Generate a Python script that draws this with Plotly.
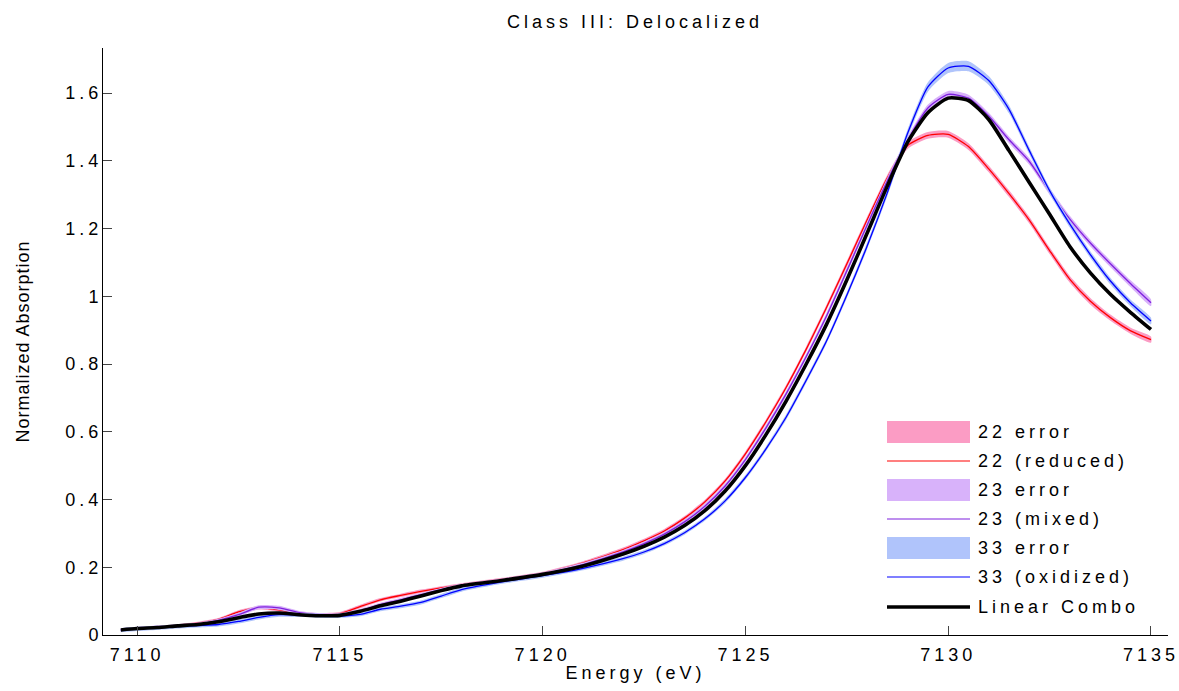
import plotly.graph_objects as go

# Energy grid (eV)
energy = [7109.6, 7110.0, 7110.5, 7111.0, 7111.5, 7112.0, 7112.5, 7113.0, 7113.5, 7114.0,
          7114.5, 7115.0, 7115.5, 7116.0, 7116.5, 7117.0, 7117.5, 7118.0, 7119.0, 7120.0,
          7121.0, 7122.0, 7122.5, 7123.0, 7123.5, 7124.0, 7124.5, 7125.0, 7125.5, 7126.0,
          7126.5, 7127.0, 7127.5, 7128.0, 7128.5, 7129.0, 7129.5, 7130.0, 7130.5, 7131.0,
          7131.5, 7132.0, 7132.5, 7133.0, 7133.5, 7134.0, 7134.5, 7135.0]

# 22 (reduced)
reduced = [0.015, 0.019, 0.023, 0.028, 0.035, 0.046, 0.068, 0.080, 0.074, 0.062,
           0.060, 0.063, 0.084, 0.104, 0.117, 0.129, 0.139, 0.148, 0.164, 0.182,
           0.213, 0.253, 0.278, 0.307, 0.345, 0.393, 0.455, 0.535, 0.628, 0.730,
           0.844, 0.967, 1.095, 1.225, 1.350, 1.445, 1.475, 1.478, 1.442, 1.376,
           1.303, 1.225, 1.135, 1.050, 0.986, 0.937, 0.898, 0.872]
reduced_err = [0.004, 0.004, 0.004, 0.004, 0.004, 0.004, 0.005, 0.005, 0.005, 0.005,
               0.005, 0.005, 0.005, 0.005, 0.005, 0.005, 0.005, 0.005, 0.005, 0.005,
               0.005, 0.006, 0.006, 0.006, 0.006, 0.006, 0.006, 0.007, 0.007, 0.007,
               0.008, 0.008, 0.009, 0.009, 0.009, 0.010, 0.010, 0.010, 0.010, 0.010,
               0.010, 0.010, 0.010, 0.010, 0.010, 0.009, 0.009, 0.009]

# 23 (mixed)
mixed = [0.015, 0.019, 0.023, 0.027, 0.032, 0.043, 0.060, 0.082, 0.080, 0.066,
         0.060, 0.060, 0.072, 0.090, 0.104, 0.119, 0.134, 0.146, 0.162, 0.180,
         0.208, 0.246, 0.270, 0.298, 0.334, 0.380, 0.440, 0.518, 0.610, 0.711,
         0.822, 0.942, 1.075, 1.210, 1.341, 1.461, 1.556, 1.596, 1.585, 1.532,
         1.462, 1.398, 1.310, 1.228, 1.158, 1.096, 1.037, 0.981]
mixed_err = [0.005, 0.005, 0.005, 0.005, 0.005, 0.005, 0.006, 0.006, 0.006, 0.005,
             0.005, 0.005, 0.005, 0.005, 0.005, 0.005, 0.005, 0.005, 0.005, 0.005,
             0.006, 0.006, 0.006, 0.006, 0.007, 0.007, 0.007, 0.007, 0.008, 0.008,
             0.008, 0.009, 0.009, 0.009, 0.010, 0.010, 0.010, 0.010, 0.010, 0.010,
             0.010, 0.010, 0.010, 0.010, 0.010, 0.010, 0.010, 0.010]

# 33 (oxidized)
oxidized = [0.014, 0.018, 0.021, 0.025, 0.028, 0.031, 0.040, 0.052, 0.060, 0.059,
            0.057, 0.056, 0.061, 0.076, 0.085, 0.096, 0.115, 0.134, 0.157, 0.175,
            0.197, 0.226, 0.245, 0.270, 0.302, 0.343, 0.396, 0.465, 0.548, 0.642,
            0.752, 0.868, 1.003, 1.148, 1.306, 1.481, 1.618, 1.674, 1.679, 1.637,
            1.552, 1.430, 1.312, 1.213, 1.124, 1.045, 0.980, 0.927]
oxidized_err = [0.006, 0.006, 0.006, 0.006, 0.006, 0.006, 0.006, 0.006, 0.006, 0.006,
                0.006, 0.006, 0.006, 0.006, 0.006, 0.006, 0.006, 0.006, 0.006, 0.006,
                0.006, 0.006, 0.006, 0.006, 0.006, 0.006, 0.007, 0.007, 0.007, 0.008,
                0.008, 0.008, 0.009, 0.010, 0.011, 0.012, 0.014, 0.015, 0.015, 0.013,
                0.012, 0.011, 0.010, 0.010, 0.010, 0.010, 0.010, 0.010]

# Linear combination
combo = [0.015, 0.019, 0.022, 0.027, 0.031, 0.039, 0.051, 0.062, 0.065, 0.060,
         0.057, 0.058, 0.070, 0.086, 0.100, 0.115, 0.131, 0.145, 0.161, 0.179,
         0.204, 0.240, 0.262, 0.289, 0.323, 0.367, 0.425, 0.500, 0.590, 0.690,
         0.800, 0.917, 1.048, 1.186, 1.326, 1.455, 1.542, 1.585, 1.578, 1.522,
         1.430, 1.336, 1.242, 1.147, 1.070, 1.006, 0.952, 0.902]

x_ticks = [7110, 7115, 7120, 7125, 7130, 7135]
y_ticks = [0, 0.2, 0.4, 0.6, 0.8, 1.0, 1.2, 1.4, 1.6]
y_labels = ["0", "0.2", "0.4", "0.6", "0.8", "1", "1.2", "1.4", "1.6"]

FONT = "Liberation Sans, Arial, sans-serif"
W, H = 1179, 691
ML, MR, MT, MB = 103, 11, 48, 56
PW, PH = W - ML - MR, H - MT - MB


def px_x(px):
    return (px - ML) / PW


def px_y(py):
    return (H - MB - py) / PH


series = [
    ("22 error", "22 (reduced)", reduced, reduced_err, "#ff0000", "#fb9cc4"),
    ("23 error", "23 (mixed)", mixed, mixed_err, "#7f20de", "#d8b2fa"),
    ("33 error", "33 (oxidized)", oxidized, oxidized_err, "#0000ff", "#b0c4fb"),
]

fig = go.Figure()
for ename, name, vals, err, lc, fc in series:
    upper = [v + e for v, e in zip(vals, err)]
    lower = [v - e for v, e in zip(vals, err)]
    fig.add_trace(go.Scatter(
        x=energy + energy[::-1], y=upper + lower[::-1],
        fill="toself", fillcolor=fc, mode="lines",
        line=dict(width=0, color=fc, shape="spline", smoothing=0.6),
        name=ename, hoverinfo="skip", showlegend=False))
    fig.add_trace(go.Scatter(
        x=energy, y=vals, mode="lines",
        line=dict(width=1.3, color=lc, shape="spline", smoothing=0.6),
        name=name, showlegend=False))

fig.add_trace(go.Scatter(
    x=energy, y=combo, mode="lines",
    line=dict(width=3.6, color="#000000", shape="spline", smoothing=0.6),
    name="Linear Combo", showlegend=False))

# Hand-built legend (wide swatches as in the reference)
legend_items = [
    ("22 error", "rect", "#fb9cc4", 432),
    ("22 (reduced)", "line", "#ff0000", 461),
    ("23 error", "rect", "#d8b2fa", 490),
    ("23 (mixed)", "line", "#7f20de", 519),
    ("33 error", "rect", "#b0c4fb", 548),
    ("33 (oxidized)", "line", "#0000ff", 577),
    ("Linear Combo", "thick", "#000000", 607),
]
shapes = []
annotations = []
sx0, sx1, tx = 887, 970, 976
for label, kind, color, cy in legend_items:
    if kind == "rect":
        shapes.append(dict(type="rect", xref="paper", yref="paper",
                           x0=px_x(sx0), x1=px_x(sx1), y0=px_y(cy + 11), y1=px_y(cy - 11),
                           fillcolor=color, line=dict(width=0), layer="above"))
    else:
        shapes.append(dict(type="line", xref="paper", yref="paper",
                           x0=px_x(sx0), x1=px_x(sx1), y0=px_y(cy), y1=px_y(cy),
                           line=dict(color=color, width=3.6 if kind == "thick" else 1.2),
                           layer="above"))
    annotations.append(dict(text=label, xref="paper", yref="paper", x=px_x(tx), y=px_y(cy),
                            xanchor="left", yanchor="middle", align="left", showarrow=False,
                            font=dict(family=FONT, size=18, color="#000000")))

fig.update_layout(
    width=W, height=H,
    margin=dict(l=ML, r=MR, t=MT, b=MB),
    paper_bgcolor="white", plot_bgcolor="white",
    font=dict(family=FONT, size=18, color="#000000"),
    title=dict(text="Class III: Delocalized", x=635 / W, xref="container",
               y=1 - 22 / H, yref="container", xanchor="center", yanchor="middle",
               font=dict(family=FONT, size=18, color="#000000")),
    showlegend=False,
    shapes=shapes,
    annotations=annotations,
)

fig.update_xaxes(
    range=[7109.16, 7135.42], tickvals=x_ticks, automargin=False,
    ticks="inside", ticklen=9, tickcolor="#444444", tickwidth=1,
    showline=True, linecolor="#000000", linewidth=1,
    showgrid=False, zeroline=False, mirror=False, ticklabelstandoff=3,
    tickfont=dict(family=FONT, size=18, color="#000000"),
    title=dict(text="Energy (eV)", font=dict(family=FONT, size=18, color="#000000"), standoff=2),
)
fig.update_yaxes(
    range=[0, 1.733], tickvals=y_ticks, ticktext=y_labels, automargin=False,
    ticks="inside", ticklen=9, tickcolor="#444444", tickwidth=1,
    showline=True, linecolor="#000000", linewidth=1,
    showgrid=False, zeroline=False, mirror=False, ticklabelstandoff=-4,
    tickfont=dict(family=FONT, size=18, color="#000000"),
    title=dict(text="Normalized Absorption", font=dict(family=FONT, size=18, color="#000000"), standoff=43),
)

post = """
(function(){
  function spacing(){
    document.querySelectorAll('.main-svg text').forEach(function(t){
      t.style.letterSpacing = t.closest('.g-ytitle') ? '1px' : '4px';
    });
  }
  spacing();
  setTimeout(spacing, 50);
})();
"""

fig.write_html("out.html", post_script=post)
